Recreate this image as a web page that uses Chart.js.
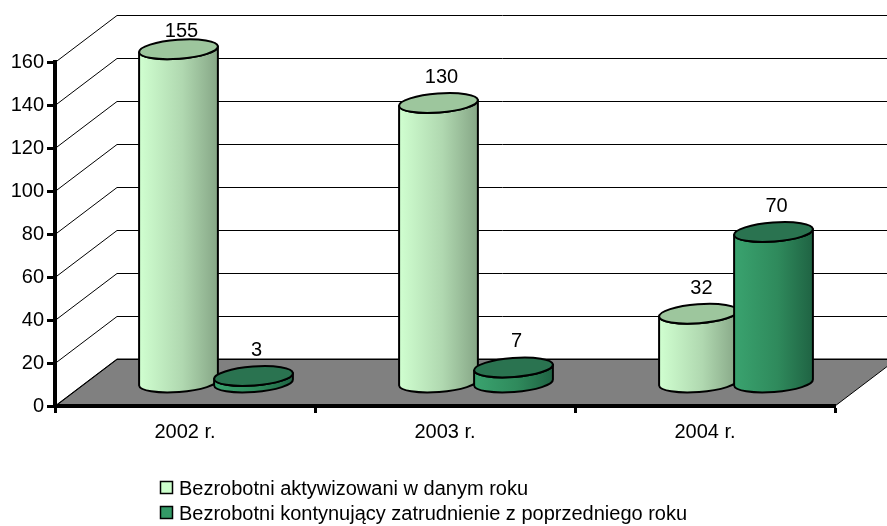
<!DOCTYPE html>
<html>
<head>
<meta charset="utf-8">
<script src="https://cdn.jsdelivr.net/npm/chart.js@4/dist/chart.umd.min.js"></script>
<style>
  html, body { margin: 0; padding: 0; background: #fff; }
  #wrap { width: 887px; height: 526px; }
</style>
</head>
<body>
<div id="wrap"><canvas id="chart" width="887" height="526"></canvas></div>
<script>
// Data
const categories = ['2002 r.', '2003 r.', '2004 r.'];
const seriesNames = [
  'Bezrobotni aktywizowani w danym roku',
  'Bezrobotni kontynujący zatrudnienie z poprzedniego roku'
];
const activated = [155, 130, 32];
const continuing = [3, 7, 70];
const yMin = 0, yMax = 160, yStep = 20;

// Styling
const FONT = "'Liberation Sans', Arial, sans-serif";
const FONT_SIZE = 20;
const DEPTH_X = 62, DEPTH_Y = -47;          // offset of the back wall
const BAR_SHIFT = 0.5;                      // cylinders stand half-way into the depth
const ELLIPSE_RY = 9.5, ELLIPSE_ROT = -0.075;
const palettes = [
  { light: '#d0ffd0', mid: '#b0d8b0', dark: '#86a686', top: '#9dc69d', swatch: '#ccffcc' },
  { light: '#3aa36f', mid: '#2f8a5c', dark: '#1f6343', top: '#2a7350', swatch: '#339966' }
];

Chart.defaults.font.family = FONT;
Chart.defaults.color = '#000';

function drawCylinder(ctx, cx, yBase, yTop, rx, pal) {
  const ry = ELLIPSE_RY, rot = ELLIPSE_ROT;
  const lx = -rx * Math.cos(rot), ly = -rx * Math.sin(rot);
  const g = ctx.createLinearGradient(cx - rx, 0, cx + rx, 0);
  g.addColorStop(0, pal.light);
  g.addColorStop(0.55, pal.mid);
  g.addColorStop(1, pal.dark);
  ctx.save();
  ctx.lineWidth = 2;
  ctx.strokeStyle = '#000';
  ctx.lineJoin = 'round';
  // side
  ctx.beginPath();
  ctx.moveTo(cx + lx, yTop + ly);
  ctx.lineTo(cx + lx, yBase + ly);
  ctx.ellipse(cx, yBase, rx, ry, rot, Math.PI, 0, true);
  ctx.lineTo(cx - lx, yTop - ly);
  ctx.ellipse(cx, yTop, rx, ry, rot, 0, Math.PI, false);
  ctx.closePath();
  ctx.fillStyle = g;
  ctx.fill();
  ctx.stroke();
  // top cap
  ctx.beginPath();
  ctx.ellipse(cx, yTop, rx, ry, rot, 0, Math.PI * 2);
  ctx.fillStyle = pal.top;
  ctx.fill();
  ctx.stroke();
  ctx.restore();
}

const scene3d = {
  id: 'scene3d',
  beforeDraw(chart) {
    const { ctx, chartArea: a, scales: { y } } = chart;
    ctx.save();
    ctx.fillStyle = '#fff';
    ctx.fillRect(0, 0, chart.width, chart.height);
    const y0 = y.getPixelForValue(0);
    // floor
    ctx.beginPath();
    ctx.moveTo(a.left, y0);
    ctx.lineTo(a.left + DEPTH_X, y0 + DEPTH_Y);
    ctx.lineTo(a.right + DEPTH_X, y0 + DEPTH_Y);
    ctx.lineTo(a.right, y0);
    ctx.closePath();
    ctx.fillStyle = '#808080';
    ctx.fill();
    ctx.lineWidth = 1;
    ctx.strokeStyle = '#000';
    ctx.stroke();
    // back-wall gridlines and side diagonals
    ctx.beginPath();
    for (let v = yMin; v <= yMax; v += yStep) {
      const py = Math.round(y.getPixelForValue(v)) + 0.5;
      ctx.moveTo(a.left, py);
      ctx.lineTo(a.left + DEPTH_X, py + DEPTH_Y);
      ctx.lineTo(a.right + DEPTH_X, py + DEPTH_Y);
    }
    ctx.stroke();
    ctx.restore();
  },
  afterDatasetsDraw(chart) {
    const { ctx, scales: { y } } = chart;
    const y0 = y.getPixelForValue(0);
    const labels = [];
    chart.data.datasets.forEach((ds, di) => {
      const meta = chart.getDatasetMeta(di);
      meta.data.forEach((bar, i) => {
        const cx = bar.x + DEPTH_X * BAR_SHIFT;
        const yBase = y0 + DEPTH_Y * BAR_SHIFT;
        const yTop = y.getPixelForValue(ds.data[i]) + DEPTH_Y * BAR_SHIFT;
        const rx = bar.width / 2 + 2;
        drawCylinder(ctx, cx, yBase, yTop, rx, palettes[di]);
        labels.push({ x: cx + 3, y: Math.max(yTop - 20, 37), text: String(ds.data[i]) });
      });
    });
    ctx.save();
    ctx.font = FONT_SIZE + 'px ' + FONT;
    ctx.fillStyle = '#000';
    ctx.textAlign = 'center';
    ctx.textBaseline = 'alphabetic';
    labels.forEach(l => ctx.fillText(l.text, l.x, l.y));
    ctx.restore();
  },
  afterDraw(chart) {
    const { ctx } = chart;
    ctx.save();
    ctx.font = FONT_SIZE + 'px ' + FONT;
    ctx.textBaseline = 'middle';
    ctx.textAlign = 'left';
    chart.data.datasets.forEach((ds, di) => {
      const cy = 488 + di * 25;
      ctx.fillStyle = palettes[di].swatch;
      ctx.fillRect(160.5, cy - 6.5, 12, 12);
      ctx.lineWidth = 1.5;
      ctx.strokeStyle = '#000';
      ctx.strokeRect(160.5, cy - 6.5, 12, 12);
      ctx.fillStyle = '#000';
      ctx.fillText(ds.label, 179, cy + 1);
    });
    ctx.restore();
  }
};

new Chart(document.getElementById('chart'), {
  type: 'bar',
  data: {
    labels: categories,
    datasets: [
      { label: seriesNames[0], data: activated, backgroundColor: 'rgba(0,0,0,0)', borderWidth: 0 },
      { label: seriesNames[1], data: continuing, backgroundColor: 'rgba(0,0,0,0)', borderWidth: 0 }
    ]
  },
  options: {
    responsive: false,
    devicePixelRatio: 1,
    animation: false,
    categoryPercentage: 0.577,
    barPercentage: 1,
    layout: { padding: { left: 0, right: 52, top: 62, bottom: 0 } },
    plugins: { legend: { display: false }, tooltip: { enabled: false } },
    scales: {
      x: {
        afterFit(scale) { scale.height = 120; },
        grid: { display: true, drawOnChartArea: false, offset: true, tickLength: 7, tickWidth: 3, color: '#000' },
        border: { display: true, color: '#000', width: 4 },
        ticks: { font: { size: FONT_SIZE }, color: '#000', padding: 7 }
      },
      y: {
        min: yMin, max: yMax,
        afterFit(scale) { scale.width = 55; },
        grid: { display: true, drawOnChartArea: false, tickLength: 8, tickWidth: 3, color: '#000' },
        border: { display: true, color: '#000', width: 4 },
        ticks: { stepSize: yStep, font: { size: FONT_SIZE }, color: '#000', padding: 3 }
      }
    }
  },
  plugins: [scene3d]
});
</script>
</body>
</html>
